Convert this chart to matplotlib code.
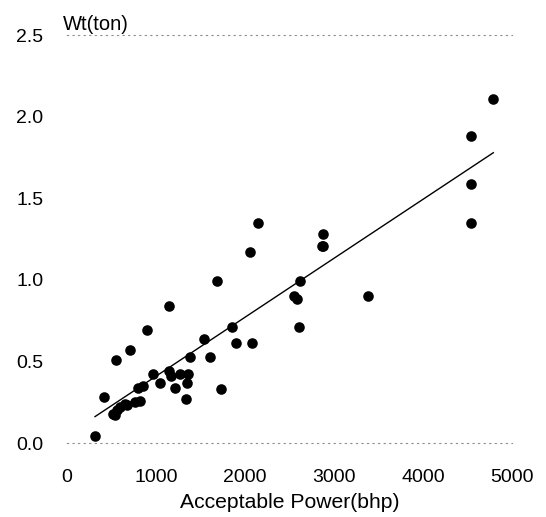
import numpy as np
import matplotlib
matplotlib.use("Agg")
import matplotlib.pyplot as plt

plt.rcParams['font.family'] = ['Liberation Sans', 'DejaVu Sans']

# Acceptable power (bhp) and weight (ton)
power_bhp = [317, 421, 549, 710, 897, 1151,
             522, 542, 560, 598, 654, 673, 766, 822,
             803, 859, 971, 1047, 1148, 1170, 1215,
             1271, 1357, 1349, 1335, 1383, 1540, 1608, 1728,
             1855, 1900, 2083, 2150, 2057, 1683,
             2880, 2861, 2880, 2618, 2551, 2588, 3384, 2610,
             4787, 4533, 4533, 4533]
weight_ton = [0.04, 0.28, 0.51, 0.57, 0.69, 0.84,
              0.18, 0.17, 0.20, 0.22, 0.24, 0.23, 0.25, 0.26,
              0.34, 0.35, 0.42, 0.37, 0.44, 0.41, 0.34,
              0.42, 0.42, 0.37, 0.27, 0.53, 0.64, 0.53, 0.33,
              0.71, 0.61, 0.61, 1.35, 1.17, 0.99,
              1.28, 1.21, 1.21, 0.99, 0.90, 0.88, 0.90, 0.71,
              2.11, 1.88, 1.59, 1.35]

x_ticks = [0, 1000, 2000, 3000, 4000, 5000]
y_ticks = [0.0, 0.5, 1.0, 1.5, 2.0, 2.5]
y_tick_labels = ["0.0", "0.5", "1.0", "1.5", "2.0", "2.5"]

W, H = 546, 517
fig = plt.figure(figsize=(W / 100, H / 100), dpi=100)
left, right, top, bottom = 66.75, 512.3, 35, 443
ax = fig.add_axes([left / W, 1 - bottom / H, (right - left) / W, (bottom - top) / H])

x = np.array(power_bhp, dtype=float)
y = np.array(weight_ton, dtype=float)

ax.scatter(x, y, s=58, color='black', zorder=3, linewidths=0)

coef = np.polyfit(x, y, 1)
xl = np.array([x.min(), x.max()])
ax.plot(xl, np.polyval(coef, xl), color='black', lw=1.0, zorder=2)

ax.set_xlim(0, 5000)
ax.set_ylim(0, 2.5)
ax.set_xticks(x_ticks)
ax.set_xticklabels([str(t) for t in x_ticks])
ax.set_yticks(y_ticks)
ax.set_yticklabels(y_tick_labels)
ax.tick_params(axis='both', length=0, labelsize=14)
ax.tick_params(axis='y', pad=17)
ax.tick_params(axis='x', pad=19)

for s in ['left', 'right']:
    ax.spines[s].set_visible(False)
for s in ['top', 'bottom']:
    ax.spines[s].set_color('0.55')
    ax.spines[s].set_linestyle((0, (1, 4)))
    ax.spines[s].set_linewidth(0.8)

ax.set_xlabel("Acceptable Power(bhp)", fontsize=15.2, va='center')
ax.xaxis.set_label_coords(0.5, (bottom - 503) / (bottom - top))

fig.text(63 / W, 1 - 25 / H, "Wt(ton)", fontsize=14.5, ha='left', va='center')

fig.savefig("out.png", dpi=100)
